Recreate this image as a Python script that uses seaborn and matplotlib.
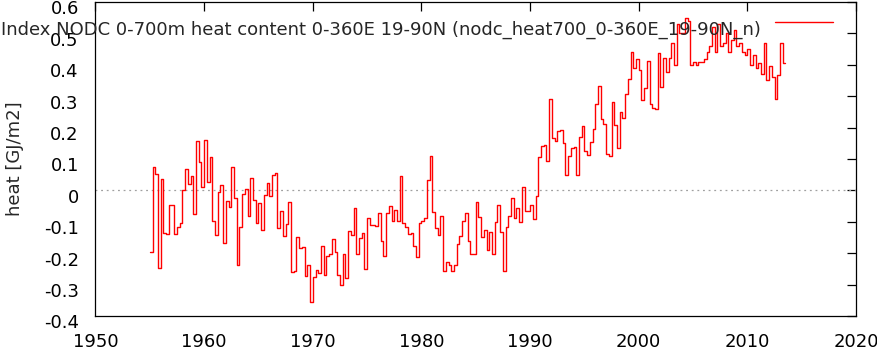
import numpy as np
import pandas as pd
import matplotlib
matplotlib.use("Agg")
import matplotlib.pyplot as plt
import matplotlib.transforms as mtransforms
from matplotlib.lines import Line2D
import seaborn as sns

# Série trimestrielle, premier trimestre = 1955.0
start_year = 1955.0
heat = [
    -0.197, 0.076, 0.051, -0.248, 0.035, -0.137, -0.140, -0.045, -0.048, -0.140,
    -0.116, -0.105, 0.000, 0.067, 0.019, 0.045, -0.076, 0.156, 0.092, 0.010,
    0.159, 0.026, 0.105, -0.098, -0.143, -0.006, 0.016, -0.169, -0.035, -0.054,
    0.073, -0.025, -0.236, -0.118, -0.010, 0.003, -0.083, 0.038, -0.032, -0.105,
    -0.041, -0.127, -0.016, 0.025, -0.017, 0.048, 0.054, -0.121, -0.067, -0.146,
    -0.108, -0.038, -0.261, -0.258, -0.150, -0.184, -0.181, -0.274, -0.236, -0.356,
    -0.277, -0.255, -0.264, -0.178, -0.271, -0.210, -0.204, -0.156, -0.197, -0.271,
    -0.302, -0.201, -0.280, -0.130, -0.143, -0.057, -0.201, -0.153, -0.137, -0.251,
    -0.089, -0.111, -0.111, -0.112, -0.073, -0.162, -0.210, -0.073, -0.051, -0.096,
    -0.064, -0.099, 0.045, -0.105, -0.118, -0.140, -0.137, -0.178, -0.213, -0.105,
    -0.099, -0.089, 0.032, 0.111, -0.070, -0.121, -0.143, -0.083, -0.258, -0.229,
    -0.236, -0.258, -0.239, -0.172, -0.146, -0.099, -0.073, -0.162, -0.204, -0.204,
    -0.038, -0.086, -0.150, -0.127, -0.191, -0.131, -0.204, -0.102, -0.045, -0.131,
    -0.258, -0.115, -0.083, -0.025, -0.089, -0.057, -0.102, 0.010, -0.067, -0.067,
    -0.048, -0.092, -0.019, 0.105, 0.140, 0.143, 0.095, 0.290, 0.166, 0.156,
    0.188, 0.191, 0.150, 0.049, 0.109, 0.135, 0.138, 0.049, 0.169, 0.204,
    0.124, 0.112, 0.153, 0.194, 0.274, 0.331, 0.226, 0.213, 0.115, 0.108,
    0.280, 0.207, 0.134, 0.251, 0.229, 0.307, 0.355, 0.441, 0.390, 0.417,
    0.382, 0.287, 0.325, 0.412, 0.274, 0.261, 0.258, 0.436, 0.330, 0.423,
    0.376, 0.423, 0.468, 0.398, 0.531, 0.500, 0.500, 0.550, 0.540, 0.400,
    0.410, 0.400, 0.410, 0.410, 0.420, 0.440, 0.460, 0.520, 0.440, 0.530,
    0.460, 0.470, 0.500, 0.440, 0.480, 0.510, 0.460, 0.470, 0.440, 0.430,
    0.450, 0.400, 0.430, 0.390, 0.407, 0.372, 0.471, 0.353, 0.395, 0.360,
    0.290, 0.366, 0.468, 0.405,
]

x_ticks = [1950, 1960, 1970, 1980, 1990, 2000, 2010, 2020]
y_ticks = [-0.4, -0.3, -0.2, -0.1, 0.0, 0.1, 0.2, 0.3, 0.4, 0.5, 0.6]
y_tick_labels = ["-0.4", "-0.3", "-0.2", "-0.1", "0", "0.1", "0.2", "0.3", "0.4", "0.5", "0.6"]

label = "Index NODC 0-700m heat content 0-360E 19-90N (nodc_heat700_0-360E_19-90N_n)"

# On construit le tableau (le dernier point ferme la dernière marche)
years = start_year + np.arange(len(heat) + 1) / 4
df = pd.DataFrame({"year": years, "heat": heat + [heat[-1]]})

sns.set_style("white")
plt.rcParams["font.family"] = ["DejaVu Sans"]
fs = 13

fig = plt.figure(figsize=(8.78, 3.51), dpi=100)
ax = fig.add_axes([95.5 / 878, 35 / 351, 760.5 / 878, 314 / 351])

ax.axhline(0, color="#a0a0a0", lw=0.9, ls=(0, (1.5, 3)), zorder=1)
sns.lineplot(data=df, x="year", y="heat", drawstyle="steps-post", color="red",
             lw=1.0, estimator=None, ax=ax, zorder=2)

ax.set_xlim(1950, 2020)
ax.set_ylim(-0.4, 0.6)
ax.set_xticks(x_ticks)
ax.set_xticklabels([str(t) for t in x_ticks])
ax.set_yticks(y_ticks)
ax.set_yticklabels(y_tick_labels)
ax.set_xlabel("")
ax.set_ylabel("heat [GJ/m2]", fontsize=fs)
ax.yaxis.set_label_coords(-0.094, 0.5)

ax.tick_params(direction="in", length=6.5, width=0.9, top=True, right=True,
               labelsize=fs, colors="black")
ax.tick_params(axis="x", pad=12.5)
ax.tick_params(axis="y", pad=12)
for s in ax.spines.values():
    s.set_color("black")
    s.set_linewidth(0.9)

# Décalage vers le bas des étiquettes y (comme gnuplot)
offset = mtransforms.ScaledTranslation(0, -0.055, fig.dpi_scale_trans)
for lab in ax.get_yticklabels():
    lab.set_transform(lab.get_transform() + offset)

# Clé en haut à droite
fig.text(761 / 878, 1 - 35 / 351, label, ha="right", va="baseline", fontsize=fs)
fig.add_artist(Line2D([775 / 878, 833 / 878], [1 - 22.3 / 351] * 2,
                      transform=fig.transFigure, color="red", lw=1.0))

fig.savefig("out.png", dpi=100)
